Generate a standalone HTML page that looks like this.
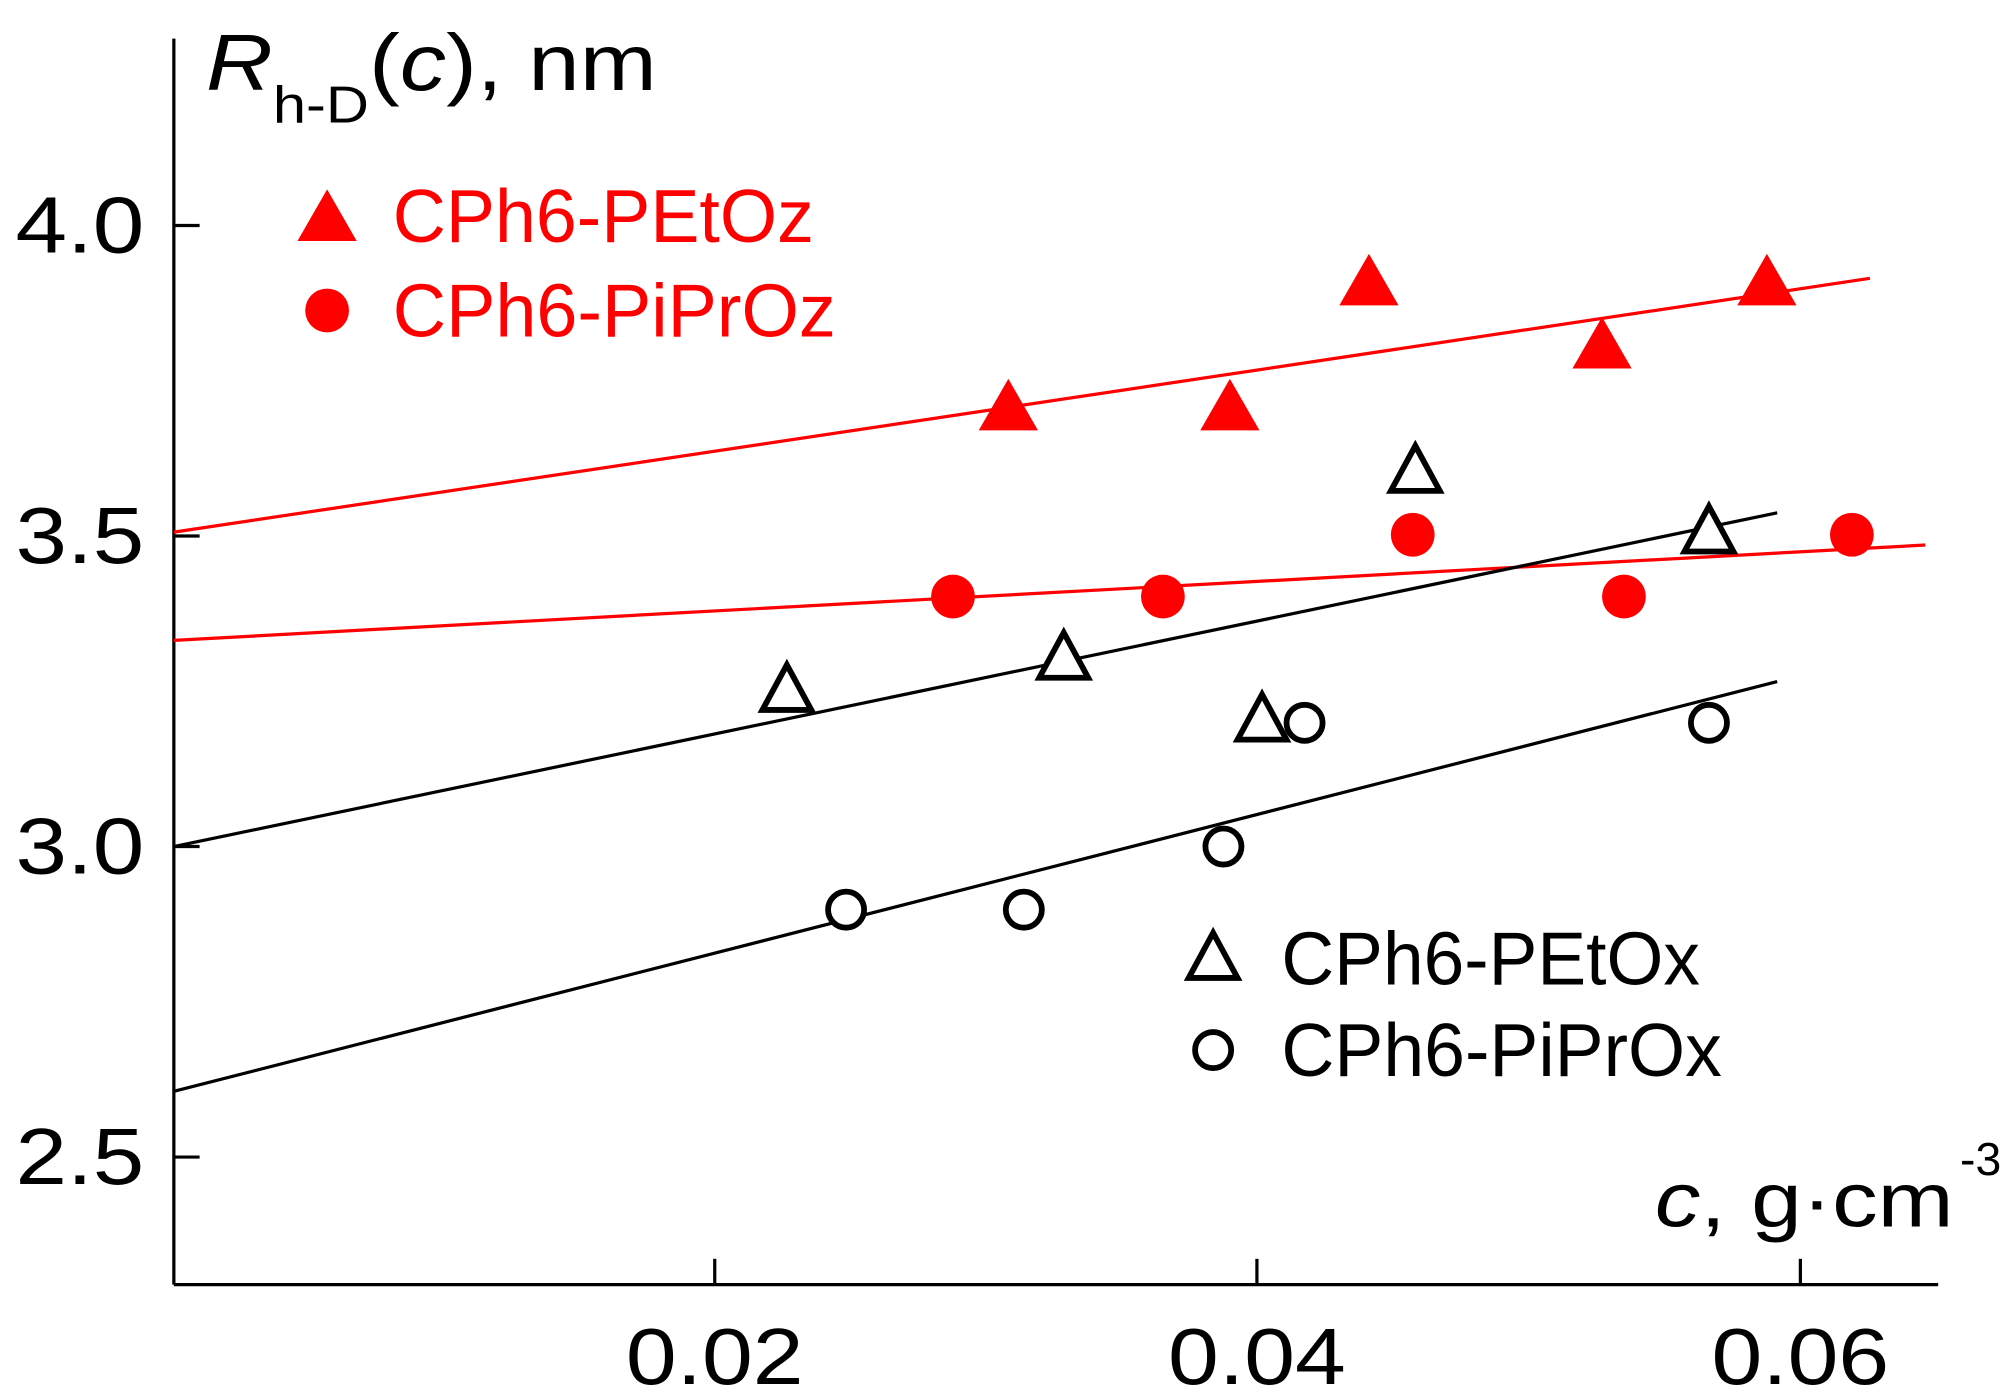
<!DOCTYPE html>
<html><head><meta charset="utf-8"><style>html,body{margin:0;padding:0;background:#fff}svg{display:block}</style></head>
<body>
<svg width="2009" height="1398" viewBox="0 0 1560 1085" preserveAspectRatio="none" xmlns="http://www.w3.org/2000/svg" font-family="Liberation Sans, Arial, sans-serif">
<defs>
<polygon id="tri" points="0,-21 23,19 -23,19"/>
</defs>
<g stroke="#000" stroke-width="2.5" fill="none">
<line x1="135" y1="30" x2="135" y2="997"/>
<line x1="135" y1="997" x2="1505" y2="997"/>
<line x1="135" y1="175" x2="155" y2="175"/>
<line x1="135" y1="416" x2="155" y2="416"/>
<line x1="135" y1="657" x2="155" y2="657"/>
<line x1="135" y1="898" x2="155" y2="898"/>
<line x1="555" y1="997" x2="555" y2="977"/>
<line x1="976" y1="997" x2="976" y2="977"/>
<line x1="1398" y1="997" x2="1398" y2="977"/>
</g>
<g font-size="62" fill="#000">
<text x="12" y="196" textLength="100" lengthAdjust="spacingAndGlyphs">4.0</text>
<text x="12" y="437" textLength="100" lengthAdjust="spacingAndGlyphs">3.5</text>
<text x="12" y="678" textLength="100" lengthAdjust="spacingAndGlyphs">3.0</text>
<text x="12" y="919" textLength="100" lengthAdjust="spacingAndGlyphs">2.5</text>
</g>
<g font-size="62" fill="#000">
<text x="486" y="1074" textLength="138" lengthAdjust="spacingAndGlyphs">0.02</text>
<text x="907" y="1074" textLength="138" lengthAdjust="spacingAndGlyphs">0.04</text>
<text x="1329" y="1074" textLength="138" lengthAdjust="spacingAndGlyphs">0.06</text>
</g>
<text x="160" y="70" font-size="62" fill="#000" textLength="350" lengthAdjust="spacingAndGlyphs"><tspan font-style="italic">R</tspan><tspan font-size="40" dy="25">h-D</tspan><tspan dy="-25">(</tspan><tspan font-style="italic">c</tspan><tspan>), nm</tspan></text>
<text x="1285" y="952" font-size="60" fill="#000" textLength="232" lengthAdjust="spacingAndGlyphs"><tspan font-style="italic">c</tspan>, g·cm</text>
<text x="1522" y="912" font-size="36" fill="#000">-3</text>
<g stroke-width="2.5">
<line x1="135" y1="413" x2="1452" y2="216" stroke="#f00"/>
<line x1="135" y1="497" x2="1495" y2="423" stroke="#f00"/>
<line x1="135" y1="657" x2="1380" y2="398" stroke="#000"/>
<line x1="135" y1="847" x2="1380" y2="529" stroke="#000"/>
</g>
<g fill="#f00">
<use href="#tri" x="783" y="315"/><use href="#tri" x="955" y="315"/><use href="#tri" x="1063" y="218"/><use href="#tri" x="1244" y="267"/><use href="#tri" x="1372" y="218"/>
<use href="#tri" x="254" y="168"/>
<circle cx="740" cy="463" r="17"/><circle cx="903" cy="463" r="17"/><circle cx="1097" cy="415" r="17"/><circle cx="1261" cy="463" r="17"/><circle cx="1438" cy="415" r="17"/>
<circle cx="254" cy="241" r="17"/>
</g>
<g fill="#fff" stroke="#000" stroke-width="4.5">
<polygon points="611,516 630,551 592,551"/>
<polygon points="826,491 845,526 807,526"/>
<polygon points="980,539 999,574 961,574"/>
<polygon points="1099,346 1118,381 1080,381"/>
<polygon points="1327,393 1346,428 1308,428"/>
<polygon points="942,724 961,759 923,759"/>
<circle cx="657" cy="706" r="14"/><circle cx="795" cy="706" r="14"/><circle cx="950" cy="657" r="14"/><circle cx="1013" cy="561" r="14"/><circle cx="1327" cy="561" r="14"/>
<circle cx="942" cy="815" r="14"/>
</g>
<g font-size="58">
<text x="305" y="188" fill="#f00" textLength="327" lengthAdjust="spacingAndGlyphs">CPh6-PEtOz</text>
<text x="305" y="261" fill="#f00" textLength="344" lengthAdjust="spacingAndGlyphs">CPh6-PiPrOz</text>
<text x="995" y="764" fill="#000" textLength="325" lengthAdjust="spacingAndGlyphs">CPh6-PEtOx</text>
<text x="995" y="835" fill="#000" textLength="342" lengthAdjust="spacingAndGlyphs">CPh6-PiPrOx</text>
</g>
</svg>
</body></html>
